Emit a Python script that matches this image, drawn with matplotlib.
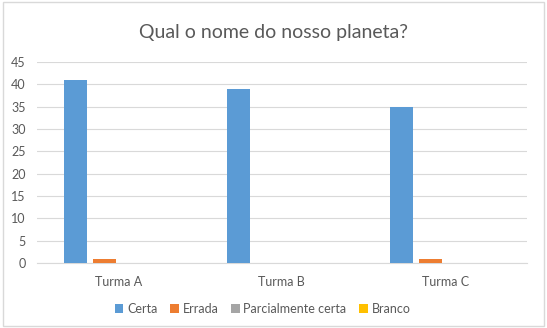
import matplotlib.pyplot as plt
import numpy as np
from matplotlib.patches import Rectangle

# data
turmas = ['Turma A', 'Turma B', 'Turma C']
series = ['Certa', 'Errada', 'Parcialmente certa', 'Branco']
certa = [41, 39, 35]
errada = [1, 0, 1]
parcial = [0, 0, 0]
branco = [0, 0, 0]
valores = [certa, errada, parcial, branco]
cores = ['#5B9BD5', '#ED7D31', '#A5A5A5', '#FFC000']

plt.rcParams['font.family'] = ['Lato', 'DejaVu Sans']

fig = plt.figure(figsize=(5.47, 3.28), dpi=100)
fig.patches.append(Rectangle((0.006, 0.006), 0.988, 0.988, transform=fig.transFigure,
                             fill=False, edgecolor='#D9D9D9', linewidth=1))
ax = fig.add_axes([0.0676, 0.198, 0.8954, 0.613])

x = np.arange(len(turmas))
step = 0.178
w = 0.141
for i, (nome, v, c) in enumerate(zip(series, valores, cores)):
    ax.bar(x + (i - 1.5) * step, v, width=w, color=c, label=nome, zorder=3)

ax.set_xlim(-0.5, 2.5)
ax.set_ylim(0, 45)
ax.set_yticks(range(0, 46, 5))
ax.set_xticks(x)
ax.set_xticklabels(turmas)
ax.grid(axis='y', color='#D9D9D9', linewidth=0.8, zorder=0)
for s in ['top', 'right', 'left']:
    ax.spines[s].set_visible(False)
ax.spines['bottom'].set_color('#D9D9D9')
ax.tick_params(length=0, colors='#595959', labelsize=9)
ax.tick_params(axis='x', pad=9)
ax.tick_params(axis='y', pad=8)

fig.text(0.5, 0.9, 'Qual o nome do nosso planeta?', ha='center', va='center',
         fontsize=14, color='#595959')
fig.legend(loc='center', bbox_to_anchor=(0.48, 0.058), ncol=4, frameon=False,
           fontsize=9, handlelength=0.7, handleheight=0.7, handletextpad=0.3,
           columnspacing=1.0, labelcolor='#595959')

fig.savefig('out.png', dpi=100)
